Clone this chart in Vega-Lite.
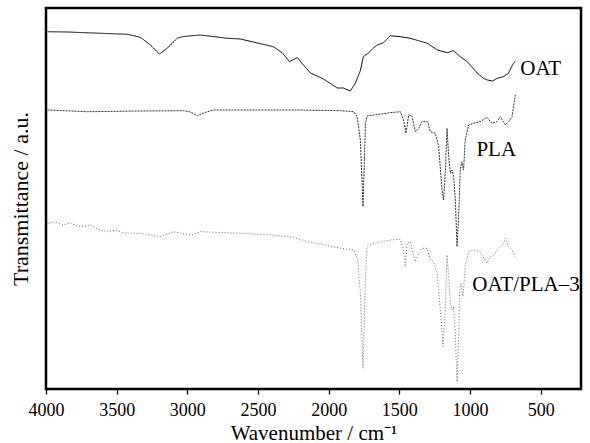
{
  "$schema": "https://vega.github.io/schema/vega-lite/v6.json",
  "width": 535,
  "height": 381,
  "autosize": {"type": "none"},
  "padding": {"left": 46, "top": 8, "right": 9, "bottom": 54},
  "config": {
    "view": {"stroke": "#000000", "strokeWidth": 2.5, "strokeOpacity": 1},
    "font": "Liberation Serif"
  },
  "layer": [
    {
      "data": {"values": [
        {"s":"OAT","w":3989,"t":357.3},{"s":"OAT","w":3850,"t":357},{"s":"OAT","w":3424,"t":354.7},{"s":"OAT","w":3332,"t":351.7},{"s":"OAT","w":3261,"t":344},{"s":"OAT","w":3197,"t":335},{"s":"OAT","w":3141,"t":341},{"s":"OAT","w":3070,"t":351},{"s":"OAT","w":3028,"t":352.5},{"s":"OAT","w":2907,"t":354},{"s":"OAT","w":2716,"t":350.7},{"s":"OAT","w":2625,"t":350},{"s":"OAT","w":2391,"t":342.3},{"s":"OAT","w":2327,"t":336},{"s":"OAT","w":2278,"t":327.5},{"s":"OAT","w":2221,"t":331.3},{"s":"OAT","w":2179,"t":324},{"s":"OAT","w":2129,"t":316},{"s":"OAT","w":2037,"t":310},{"s":"OAT","w":1939,"t":301},{"s":"OAT","w":1896,"t":301},{"s":"OAT","w":1847,"t":298},{"s":"OAT","w":1811,"t":306},{"s":"OAT","w":1776,"t":318.3},{"s":"OAT","w":1755,"t":332.3},{"s":"OAT","w":1719,"t":336},{"s":"OAT","w":1684,"t":341},{"s":"OAT","w":1656,"t":344},{"s":"OAT","w":1613,"t":346.3},{"s":"OAT","w":1564,"t":353.3},{"s":"OAT","w":1493,"t":352.3},{"s":"OAT","w":1422,"t":350.7},{"s":"OAT","w":1302,"t":345.7},{"s":"OAT","w":1231,"t":339},{"s":"OAT","w":1161,"t":336.3},{"s":"OAT","w":1118,"t":338.3},{"s":"OAT","w":1069,"t":332.3},{"s":"OAT","w":1019,"t":327.3},{"s":"OAT","w":948,"t":315.7},{"s":"OAT","w":906,"t":310.7},{"s":"OAT","w":878,"t":309},{"s":"OAT","w":842,"t":308},{"s":"OAT","w":807,"t":310.7},{"s":"OAT","w":765,"t":312.3},{"s":"OAT","w":729,"t":315.7},{"s":"OAT","w":694,"t":325.7},{"s":"OAT","w":680,"t":327.3},
        {"s":"PLA","w":3989,"t":279},{"s":"PLA","w":3707,"t":277.3},{"s":"PLA","w":3332,"t":278},{"s":"PLA","w":3028,"t":278.3},{"s":"PLA","w":2978,"t":277},{"s":"PLA","w":2929,"t":273.3},{"s":"PLA","w":2886,"t":276},{"s":"PLA","w":2858,"t":277.3},{"s":"PLA","w":2815,"t":279},{"s":"PLA","w":2200,"t":279},{"s":"PLA","w":1917,"t":278.3},{"s":"PLA","w":1823,"t":277.3},{"s":"PLA","w":1799,"t":272.3},{"s":"PLA","w":1776,"t":249},{"s":"PLA","w":1757,"t":182.3},{"s":"PLA","w":1740,"t":265.7},{"s":"PLA","w":1728,"t":273},{"s":"PLA","w":1682,"t":274},{"s":"PLA","w":1564,"t":276.3},{"s":"PLA","w":1493,"t":277.3},{"s":"PLA","w":1470,"t":269},{"s":"PLA","w":1453,"t":255.7},{"s":"PLA","w":1434,"t":274},{"s":"PLA","w":1410,"t":273},{"s":"PLA","w":1387,"t":257.3},{"s":"PLA","w":1364,"t":260.7},{"s":"PLA","w":1340,"t":267.3},{"s":"PLA","w":1300,"t":267.3},{"s":"PLA","w":1281,"t":257.3},{"s":"PLA","w":1246,"t":255.7},{"s":"PLA","w":1222,"t":242.3},{"s":"PLA","w":1198,"t":199},{"s":"PLA","w":1187,"t":189},{"s":"PLA","w":1175,"t":215.7},{"s":"PLA","w":1163,"t":260.7},{"s":"PLA","w":1151,"t":232.3},{"s":"PLA","w":1139,"t":215.7},{"s":"PLA","w":1127,"t":219},{"s":"PLA","w":1116,"t":212.3},{"s":"PLA","w":1104,"t":189},{"s":"PLA","w":1092,"t":142.3},{"s":"PLA","w":1081,"t":172.3},{"s":"PLA","w":1069,"t":219},{"s":"PLA","w":1058,"t":227.3},{"s":"PLA","w":1046,"t":219},{"s":"PLA","w":1034,"t":249},{"s":"PLA","w":1010,"t":264},{"s":"PLA","w":975,"t":265.7},{"s":"PLA","w":929,"t":267.3},{"s":"PLA","w":880,"t":271.7},{"s":"PLA","w":846,"t":265.7},{"s":"PLA","w":811,"t":267.3},{"s":"PLA","w":786,"t":272.3},{"s":"PLA","w":750,"t":264},{"s":"PLA","w":727,"t":267.3},{"s":"PLA","w":703,"t":272.3},{"s":"PLA","w":680,"t":294},
        {"s":"OAT/PLA-3","w":3989,"t":165.7},{"s":"OAT/PLA-3","w":3933,"t":167},{"s":"OAT/PLA-3","w":3883,"t":164},{"s":"OAT/PLA-3","w":3827,"t":166},{"s":"OAT/PLA-3","w":3777,"t":163},{"s":"OAT/PLA-3","w":3735,"t":162.3},{"s":"OAT/PLA-3","w":3685,"t":164},{"s":"OAT/PLA-3","w":3636,"t":160},{"s":"OAT/PLA-3","w":3565,"t":157.3},{"s":"OAT/PLA-3","w":3508,"t":159},{"s":"OAT/PLA-3","w":3452,"t":156},{"s":"OAT/PLA-3","w":3332,"t":155.7},{"s":"OAT/PLA-3","w":3261,"t":154},{"s":"OAT/PLA-3","w":3190,"t":152.3},{"s":"OAT/PLA-3","w":3098,"t":157.3},{"s":"OAT/PLA-3","w":3049,"t":156},{"s":"OAT/PLA-3","w":2978,"t":154},{"s":"OAT/PLA-3","w":2907,"t":157.3},{"s":"OAT/PLA-3","w":2625,"t":155.7},{"s":"OAT/PLA-3","w":2391,"t":154},{"s":"OAT/PLA-3","w":2250,"t":151.7},{"s":"OAT/PLA-3","w":2151,"t":147.3},{"s":"OAT/PLA-3","w":2059,"t":145},{"s":"OAT/PLA-3","w":1967,"t":142.3},{"s":"OAT/PLA-3","w":1917,"t":140.7},{"s":"OAT/PLA-3","w":1823,"t":139},{"s":"OAT/PLA-3","w":1795,"t":129},{"s":"OAT/PLA-3","w":1776,"t":95.7},{"s":"OAT/PLA-3","w":1757,"t":20.7},{"s":"OAT/PLA-3","w":1740,"t":112.3},{"s":"OAT/PLA-3","w":1728,"t":142.3},{"s":"OAT/PLA-3","w":1682,"t":145.7},{"s":"OAT/PLA-3","w":1564,"t":149},{"s":"OAT/PLA-3","w":1493,"t":149.7},{"s":"OAT/PLA-3","w":1470,"t":139},{"s":"OAT/PLA-3","w":1458,"t":122.3},{"s":"OAT/PLA-3","w":1446,"t":145.7},{"s":"OAT/PLA-3","w":1422,"t":147.3},{"s":"OAT/PLA-3","w":1410,"t":139},{"s":"OAT/PLA-3","w":1387,"t":127.3},{"s":"OAT/PLA-3","w":1364,"t":135.7},{"s":"OAT/PLA-3","w":1340,"t":140.7},{"s":"OAT/PLA-3","w":1304,"t":140.7},{"s":"OAT/PLA-3","w":1281,"t":129},{"s":"OAT/PLA-3","w":1258,"t":127.3},{"s":"OAT/PLA-3","w":1233,"t":115.7},{"s":"OAT/PLA-3","w":1210,"t":79},{"s":"OAT/PLA-3","w":1191,"t":42.3},{"s":"OAT/PLA-3","w":1175,"t":79},{"s":"OAT/PLA-3","w":1163,"t":134},{"s":"OAT/PLA-3","w":1151,"t":112.3},{"s":"OAT/PLA-3","w":1139,"t":85.7},{"s":"OAT/PLA-3","w":1127,"t":79},{"s":"OAT/PLA-3","w":1116,"t":82.3},{"s":"OAT/PLA-3","w":1104,"t":52.3},{"s":"OAT/PLA-3","w":1092,"t":7.3},{"s":"OAT/PLA-3","w":1081,"t":45.7},{"s":"OAT/PLA-3","w":1074,"t":95.7},{"s":"OAT/PLA-3","w":1064,"t":105.7},{"s":"OAT/PLA-3","w":1050,"t":92.3},{"s":"OAT/PLA-3","w":1034,"t":122.3},{"s":"OAT/PLA-3","w":1010,"t":137.3},{"s":"OAT/PLA-3","w":975,"t":139},{"s":"OAT/PLA-3","w":929,"t":137.3},{"s":"OAT/PLA-3","w":880,"t":125.7},{"s":"OAT/PLA-3","w":856,"t":132.3},{"s":"OAT/PLA-3","w":833,"t":134},{"s":"OAT/PLA-3","w":798,"t":140.7},{"s":"OAT/PLA-3","w":762,"t":145.7},{"s":"OAT/PLA-3","w":750,"t":150.7},{"s":"OAT/PLA-3","w":727,"t":142.3},{"s":"OAT/PLA-3","w":703,"t":139},{"s":"OAT/PLA-3","w":680,"t":132.3}
      ]},
      "mark": {"type": "line", "strokeWidth": 1, "clip": true},
      "encoding": {
        "x": {
          "field": "w", "type": "quantitative",
          "scale": {"domain": [4000, 215], "nice": false, "zero": false},
          "axis": {
            "title": "Wavenumber / cm⁻¹",
            "titleFontSize": 21, "titleFontWeight": "normal", "titleColor": "#000000",
            "titleFont": "Liberation Serif", "titlePadding": 3,
            "values": [4000,3750,3500,3250,3000,2750,2500,2250,2000,1750,1500,1250,1000,750,500,250],
            "labelExpr": "datum.value % 500 === 0 ? datum.value : ''",
            "labelFontSize": 18, "labelColor": "#000000", "labelFont": "Liberation Serif",
            "labelPadding": 7, "labelFlush": false, "labelOverlap": false,
            "domain": false, "grid": false, "zindex": 2,
            "ticks": true, "tickColor": "#000000", "tickWidth": 1.3, "tickSize": 5
          }
        },
        "y": {
          "field": "t", "type": "quantitative",
          "scale": {"domain": [0, 381], "nice": false, "zero": false},
          "axis": {
            "title": "Transmittance / a.u.",
            "titleFontSize": 22, "titleFontWeight": "normal", "titleColor": "#000000",
            "titleFont": "Liberation Serif", "titlePadding": 14,
            "labels": false, "ticks": false, "domain": false, "grid": false
          }
        },
        "color": {
          "field": "s", "type": "nominal", "legend": null,
          "scale": {"domain": ["OAT", "PLA", "OAT/PLA-3"], "range": ["#000000", "#333333", "#666666"]}
        },
        "strokeDash": {
          "field": "s", "type": "nominal", "legend": null,
          "scale": {"domain": ["OAT", "PLA", "OAT/PLA-3"], "range": [[1, 0], [2, 1], [1, 2]]}
        }
      }
    },
    {
      "data": {"values": [
        {"label": "OAT", "w": 644, "t": 320},
        {"label": "PLA", "w": 955, "t": 239},
        {"label": "OAT/PLA–3", "w": 984, "t": 104}
      ]},
      "mark": {"type": "text", "align": "left", "baseline": "middle", "fontSize": 21, "font": "Liberation Serif", "color": "#000000"},
      "encoding": {
        "x": {"field": "w", "type": "quantitative"},
        "y": {"field": "t", "type": "quantitative"},
        "text": {"field": "label"}
      }
    }
  ]
}
